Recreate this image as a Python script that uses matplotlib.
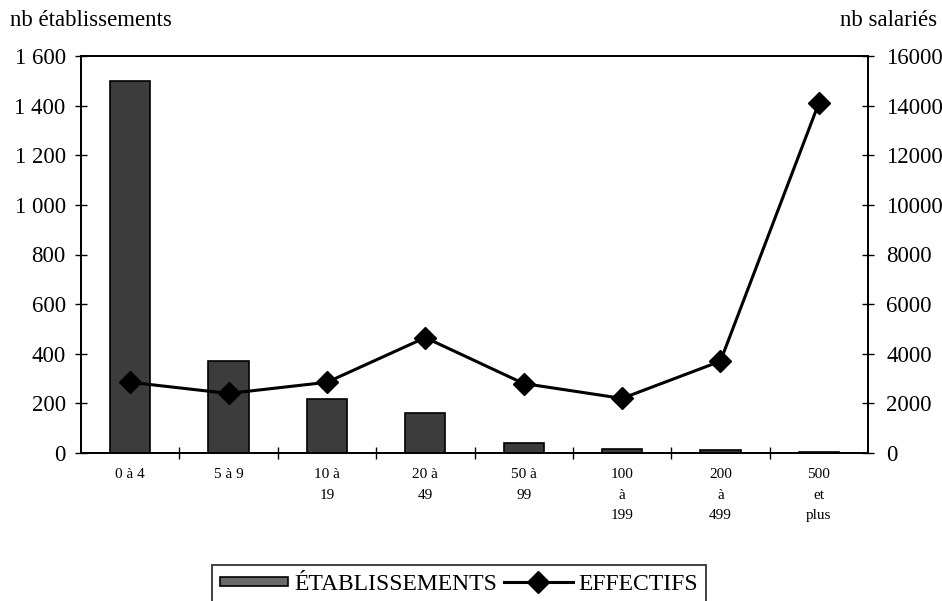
import matplotlib
matplotlib.use("Agg")
import matplotlib.pyplot as plt
from matplotlib.ticker import FuncFormatter
from matplotlib.patches import Patch, Rectangle
from matplotlib.lines import Line2D
from matplotlib.legend_handler import HandlerPatch

categories = ["0 à 4", "5 à 9", "10 à\n19", "20 à\n49", "50 à\n99",
              "100\nà\n199", "200\nà\n499", "500\net\nplus"]
etablissements = [1500, 370, 218, 160, 40, 18, 12, 6]
effectifs = [2850, 2400, 2850, 4650, 2800, 2200, 3700, 14100]
left_ticks = [0, 200, 400, 600, 800, 1000, 1200, 1400, 1600]
right_ticks = [0, 2000, 4000, 6000, 8000, 10000, 12000, 14000, 16000]

plt.rcParams['font.family'] = ['Liberation Serif', 'DejaVu Serif']

fig = plt.figure(figsize=(9.42, 6.01), dpi=100)
ax = fig.add_axes([81/942, 1-453/601, (868-81)/942, (453-56)/601])
x = list(range(len(categories)))
ax.bar(x, etablissements, width=0.41, color='#3c3c3c', edgecolor='black',
       linewidth=1.2, zorder=2)
ax.set_xlim(-0.5, len(categories)-0.5)
ax.set_ylim(0, 1600)
ax.set_yticks(left_ticks)
ax.yaxis.set_major_formatter(FuncFormatter(lambda v, p: f"{int(v):,}".replace(",", " ")))
ax.tick_params(axis='y', direction='inout', length=8, width=1, labelsize=16.5, pad=7)
ax.set_xticks(x)
ax.set_xticklabels(categories, fontsize=11, linespacing=1.75, va='top')
ax.tick_params(axis='x', length=0, pad=11)
ax.set_xticks([i + 0.5 for i in x[:-1]], minor=True)
ax.tick_params(axis='x', which='minor', direction='inout', length=8, width=1)
for s in ax.spines.values():
    s.set_linewidth(1.3)

ax2 = ax.twinx()
ax2.plot(x, effectifs, color='black', linewidth=2.2, marker='D', markersize=11,
         zorder=3)
ax2.set_ylim(0, 16000)
ax2.set_yticks(right_ticks)
ax2.tick_params(axis='y', direction='inout', length=8, width=1, labelsize=16.5, pad=9)
for s in ax2.spines.values():
    s.set_linewidth(1.3)

fig.text(10/942, 1-20/601, "nb établissements", fontsize=16.5, ha='left', va='center')
fig.text(937/942, 1-20/601, "nb salariés", fontsize=16.5, ha='right', va='center')


def flat_patch(legend, orig_handle, xdescent, ydescent, width, height, fontsize):
    h = height * 0.6
    return Rectangle((-xdescent, -ydescent + (height - h) / 2), width, h)


handles = [Patch(facecolor='#6a6a6a', edgecolor='black', linewidth=1.2),
           Line2D([0], [0], color='black', linewidth=2.2, marker='D', markersize=11)]
leg = fig.legend(handles, ["ÉTABLISSEMENTS", "EFFECTIFS"], loc='upper center',
                 bbox_to_anchor=(459/942, 1-565/601), ncol=2, fontsize=17,
                 frameon=True, fancybox=False, edgecolor='black',
                 handlelength=2.9, handletextpad=0.25, columnspacing=0.3,
                 borderpad=0.35, borderaxespad=0,
                 handler_map={Patch: HandlerPatch(patch_func=flat_patch)})
leg.get_frame().set_linewidth(1.3)

fig.savefig("out.png", dpi=100)
